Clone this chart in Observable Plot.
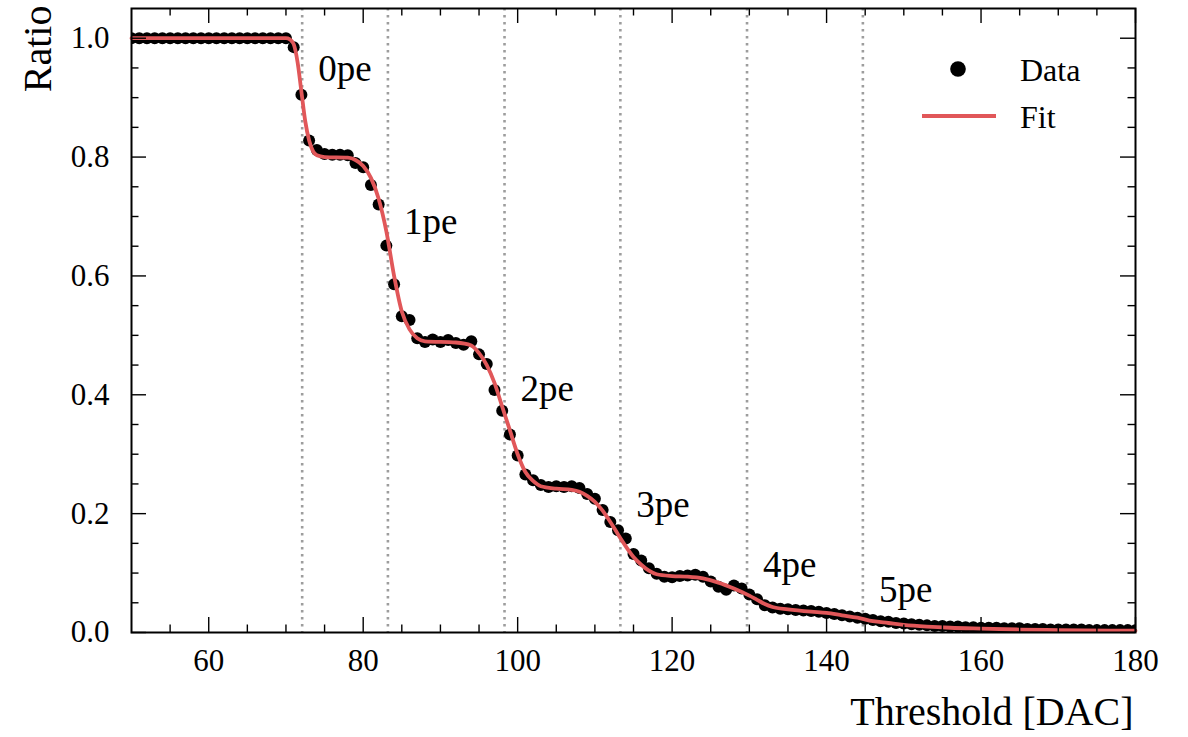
<!DOCTYPE html>
<html>
<head>
<meta charset="utf-8">
<script src="https://cdn.jsdelivr.net/npm/d3@7"></script>
<script src="https://cdn.jsdelivr.net/npm/@observablehq/plot@0.6"></script>
<style>
  html, body { margin: 0; padding: 0; background: #fff; }
  #chart { width: 1188px; height: 737px; }
</style>
</head>
<body>
<div id="chart"></div>
<script>
// ---- Data ----
const threshold = [
  50,51,52,53,54,55,56,57,58,59,60,61,62,63,64,65,66,67,68,69,70,
  71,72,73,74,75,76,77,78,79,80,81,82,83,84,85,86,87,88,89,90,
  91,92,93,94,95,96,97,98,99,100,101,102,103,104,105,106,107,108,109,110,
  111,112,113,114,115,116,117,118,119,120,121,122,123,124,125,126,127,128,129,130,
  131,132,133,134,135,136,137,138,139,140,141,142,143,144,145,146,147,148,149,150,
  151,152,153,154,155,156,157,158,159,160,161,162,163,164,165,166,167,168,169,170,
  171,172,173,174,175,176,177,178,179,180
];
const ratio = [
  1.000,1.000,1.000,1.000,1.000,1.000,1.000,1.000,1.000,1.000,1.000,1.000,1.000,1.000,1.000,1.000,1.000,1.000,1.000,1.000,1.000,
  0.985,0.905,0.828,0.812,0.805,0.804,0.804,0.803,0.790,0.783,0.753,0.720,0.651,0.586,0.532,0.526,0.495,0.489,0.493,0.489,
  0.492,0.487,0.484,0.490,0.468,0.452,0.408,0.373,0.333,0.298,0.266,0.256,0.248,0.245,0.246,0.245,0.246,0.243,0.233,0.225,
  0.206,0.186,0.172,0.158,0.132,0.121,0.108,0.099,0.094,0.093,0.095,0.096,0.097,0.094,0.086,0.077,0.072,0.079,0.074,0.064,
  0.056,0.046,0.042,0.040,0.039,0.038,0.037,0.036,0.035,0.033,0.031,0.029,0.027,0.025,0.023,0.021,0.019,0.018,0.016,0.015,
  0.014,0.013,0.012,0.011,0.011,0.010,0.010,0.009,0.009,0.008,0.008,0.008,0.007,0.007,0.007,0.006,0.006,0.006,0.005,0.005,
  0.005,0.005,0.005,0.004,0.004,0.004,0.004,0.004,0.004,0.004
];

const fitX = [50,70,70.5,71,71.5,72,72.5,73,73.5,74,75,78,79,80,81,82,83,84,85,86,87,88,92,94,95,96,97,98,99,100,101,102,103,105,107,108,109,110,111,112,113,114,115,116,117,118,120,122,124,126,128,130,131,132,133,135,138,140,142,144,146,148,150,153,156,160,165,170,180];
const fitY = [1.000,1.000,0.998,0.990,0.960,0.910,0.860,0.828,0.810,0.803,0.800,0.799,0.795,0.785,0.765,0.730,0.675,0.600,0.540,0.510,0.495,0.490,0.488,0.483,0.470,0.450,0.420,0.380,0.340,0.300,0.270,0.255,0.246,0.242,0.240,0.237,0.230,0.220,0.205,0.186,0.165,0.145,0.127,0.114,0.104,0.098,0.095,0.094,0.091,0.084,0.074,0.062,0.055,0.048,0.043,0.039,0.035,0.033,0.029,0.025,0.019,0.016,0.013,0.010,0.008,0.0065,0.005,0.004,0.003];

const peLines = [72.1, 83.2, 98.3, 113.3, 129.7, 144.7];
const peLabels = ["0pe", "1pe", "2pe", "3pe", "4pe", "5pe"];
const peLabelY = [0.948, 0.691, 0.410, 0.214, 0.113, 0.071];

const xMajor = [60, 80, 100, 120, 140, 160, 180];
const xMinor = [55, 65, 70, 75, 85, 90, 95, 105, 110, 115, 125, 130, 135, 145, 150, 155, 165, 170, 175];
const yMajor = [0.0, 0.2, 0.4, 0.6, 0.8, 1.0];
const yMinor = [0.05, 0.1, 0.15, 0.25, 0.3, 0.35, 0.45, 0.5, 0.55, 0.65, 0.7, 0.75, 0.85, 0.9, 0.95];

const xLabel = "Threshold [DAC]";
const yLabel = "Ratio";
const legendItems = ["Data", "Fit"];

// ---- Build ----
const points = threshold.map((t, i) => ({t, r: ratio[i]}));
const fit = fitX.map((t, i) => ({t, r: fitY[i]}));
const peData = peLines.map((x, i) => ({x, y: peLabelY[i], label: peLabels[i]}));

const W = 1188, H = 737;
const mL = 131, mR = 53, mT = 8, mB = 105;
const fw = W - mL - mR, fh = H - mT - mB;
const RED = "#e15759";
const FONT = "Liberation Serif, DejaVu Serif, serif";

const major = 15, minor = 7.5;
const tickStyle = {stroke: "black", strokeWidth: 1.4};

const chart = Plot.plot({
  width: W, height: H,
  marginLeft: mL, marginRight: mR, marginTop: mT, marginBottom: mB,
  style: {fontFamily: FONT, fontSize: "31px", background: "white", color: "black", overflow: "visible"},
  x: {domain: [50, 180]},
  y: {domain: [0, 1.05]},
  marks: [
    Plot.ruleX(peLines, {x: d => d, stroke: "#9d9d9d", strokeWidth: 2.6, strokeDasharray: "2.6,4.4"}),
    Plot.dot(points, {x: "t", y: "r", r: 6, fill: "black", stroke: "none", clip: true}),
    Plot.line(fit, {x: "t", y: "r", stroke: RED, strokeWidth: 3.8, curve: "monotone-x"}),
    Plot.text(peData, {x: "x", y: "y", text: "label", dx: 16, textAnchor: "start", lineAnchor: "middle", fontSize: 37, fill: "black"}),
    // inward ticks on all four sides
    Plot.tickX(xMajor, {x: d => d, insetTop: fh - major, ...tickStyle}),
    Plot.tickX(xMajor, {x: d => d, insetBottom: fh - major, ...tickStyle}),
    Plot.tickX(xMinor, {x: d => d, insetTop: fh - minor, ...tickStyle}),
    Plot.tickX(xMinor, {x: d => d, insetBottom: fh - minor, ...tickStyle}),
    Plot.tickY(yMajor, {y: d => d, insetRight: fw - major, ...tickStyle}),
    Plot.tickY(yMajor, {y: d => d, insetLeft: fw - major, ...tickStyle}),
    Plot.tickY(yMinor, {y: d => d, insetRight: fw - minor, ...tickStyle}),
    Plot.tickY(yMinor, {y: d => d, insetLeft: fw - minor, ...tickStyle}),
    Plot.axisX({ticks: xMajor, tickSize: 0, tickPadding: 16, label: null, tickFormat: d => String(d), fontSize: 31}),
    Plot.axisY({ticks: yMajor, tickSize: 0, tickPadding: 22, label: null, tickFormat: d3.format(".1f"), fontSize: 31}),
    Plot.frame({stroke: "black", strokeWidth: 2}),
    Plot.text([xLabel], {text: d => d, frameAnchor: "bottom-right", dx: -2, dy: 80, textAnchor: "end", lineAnchor: "middle", fontSize: 40, fill: "black"}),
    Plot.text([yLabel], {text: d => d, frameAnchor: "top-left", dx: -93, dy: -3, rotate: -90, textAnchor: "end", lineAnchor: "middle", fontSize: 40, fill: "black"})
  ]
});

// Legend (upper right, inside the frame)
const svg = d3.select(chart);
const lg = svg.append("g").attr("font-family", FONT).attr("font-size", 32)
  .attr("fill", "black").attr("text-anchor", "start");
lg.append("circle").attr("cx", 958).attr("cy", 69).attr("r", 7.8).attr("fill", "black");
lg.append("line").attr("x1", 922).attr("x2", 996).attr("y1", 116).attr("y2", 116)
  .attr("stroke", RED).attr("stroke-width", 4);
lg.selectAll("text.lt").data(legendItems).join("text")
  .attr("x", 1020).attr("y", (d, i) => i === 0 ? 70 : 117)
  .attr("dy", "0.33em").attr("text-anchor", "start").text(d => d);

document.getElementById("chart").appendChild(chart);
</script>
</body>
</html>
